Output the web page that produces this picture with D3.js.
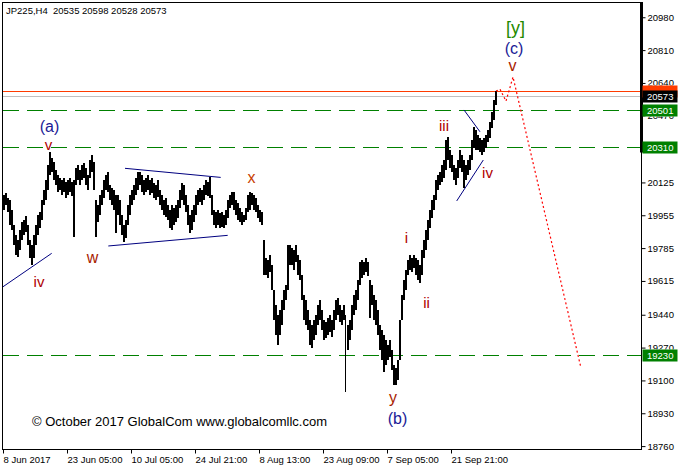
<!DOCTYPE html>
<html><head><meta charset="utf-8">
<script src="https://cdn.jsdelivr.net/npm/d3@7/dist/d3.min.js"></script>
<style>body{margin:0;background:#fff}svg{display:block}</style>
</head><body><svg id="c" width="681" height="470"></svg>
<script>
// ---- data (JP225 H4, compressed bars: one per 2 H4 bars) ----
const symbolInfo = "JP225,H4  20535 20598 20528 20573";
const highs = [
20060,20070,20044,20034,19982,19904,19853,19827,19879,19920,19930,19951,19904,19827,19801,19853,19904,19956,19972,20034,20086,20137,20215,20282,
20251,20231,20189,20163,20148,20137,20148,20127,20137,20148,20127,20137,20199,20215,20189,20215,20225,20199,20163,20241,20267,20231,20034,20008,20060,
20086,20137,20163,20179,20111,20096,20086,20060,20060,20034,19956,19904,19930,20008,20060,20086,20111,20148,20179,20179,20163,20137,20148,20163,20137,
20148,20122,20111,20137,20086,20060,20034,20044,20008,19982,20008,19992,20008,20034,20086,20122,20111,20060,20008,19956,19982,20008,20060,20086,20096,
20086,20111,20137,20127,20153,20060,19982,19972,19982,19967,19972,19956,19982,20034,20060,20075,20075,20034,20018,19992,19972,19956,19992,20060,20075,
20070,20060,20044,20008,19982,19972,19827,19734,19723,19749,19697,19568,19490,19439,19464,19516,19568,19594,19801,19801,19785,19775,19801,19749,19723,
19646,19542,19516,19464,19413,19387,19413,19439,19490,19516,19464,19413,19402,19423,19439,19413,19464,19516,19527,19490,19464,19490,19439,19387,19413,
19490,19542,19568,19620,19713,19723,19713,19734,19713,19620,19594,19542,19516,19464,19387,19361,19335,19309,19283,19309,19257,19180,19164,19206,19413,
19542,19620,19671,19723,19749,19734,19749,19734,19723,19697,19775,19827,19879,19930,19982,20034,20060,20137,20163,20179,20215,20241,20345,20360,20293,
20267,20215,20199,20241,20293,20267,20241,20215,20241,20267,20345,20412,20396,20370,20355,20345,20355,20370,20396,20438,20489,20552,20598];
const lows = [
19982,20008,19972,19904,19879,19801,19749,19739,19775,19827,19853,19868,19801,19734,19697,19734,19801,19853,19889,19930,20008,20034,20086,20163,
20179,20137,20111,20075,20086,20060,20075,20044,20060,20075,20055,19842,20111,20137,20111,20137,20148,20111,20086,20148,20179,20086,19842,19920,19956,
20008,20044,20086,20075,20034,20008,19982,19863,19956,19904,19853,19816,19837,19904,19956,20008,20034,20060,20086,20111,20075,20060,20075,20086,20060,
20070,20044,20034,20049,20008,19982,19956,19946,19930,19889,19879,19904,19920,19941,19992,20034,20008,19972,19904,19863,19879,19920,19956,20008,20023,
20008,20034,20060,20055,20044,19956,19904,19889,19904,19889,19894,19889,19904,19941,19992,20008,19982,19956,19930,19920,19904,19920,19930,19972,19982,
20008,19982,19972,19941,19920,19904,19646,19646,19630,19661,19568,19413,19335,19283,19335,19387,19464,19516,19568,19697,19697,19671,19713,19646,19620,
19516,19413,19387,19361,19283,19268,19309,19335,19387,19413,19361,19309,19320,19335,19351,19325,19361,19413,19439,19402,19387,19413,19040,19257,19309,
19361,19439,19464,19516,19594,19630,19646,19661,19640,19423,19490,19413,19387,19335,19257,19206,19144,19180,19206,19221,19154,19076,19076,19102,19206,
19413,19516,19568,19646,19671,19661,19682,19646,19620,19604,19646,19734,19775,19827,19889,19941,19982,20034,20086,20111,20127,20148,20189,20241,20199,
20179,20137,20111,20148,20199,20179,20096,20137,20163,20189,20241,20303,20293,20293,20282,20267,20282,20303,20334,20355,20407,20448,20528];
const xTickLabels = ["8 Jun 2017","23 Jun 05:00","10 Jul 05:00","24 Jul 21:00","8 Aug 13:00","23 Aug 09:00","7 Sep 05:00","21 Sep 21:00"];
const xTickBars = [0,32,64,96,128,160,192,224];
const yTicks = [20980,20810,20640,20470,20300,20125,19955,19785,19615,19440,19270,19100,18930,18760];
const hiddenTicks = [20300];           // label fully covered by the 20310 level box
const levelPrices = [20501,20310,19230];
const bidPrice = 20573;
const askPrice = 20598;
// trend lines: [barIndex, price] pairs
const trendLines = [
  [[0,19585],[24.35,19758]],
  [[61,20198],[108.85,20151]],
  [[52.65,19796],[112.35,19851]],
  [[226.85,20029],[240.15,20241]],
  [[230.5,20500],[238.5,20387]]
];
// projected path (red dotted)
const projection = [[246.5,20598],[248.5,20608],[251.5,20546],[255,20671],[289,19164]];
// wave labels: text, bar index, price (baseline), kind
const waveLabels = [
  ["(a)",23.25,20386,"deg"],["v",22.75,20293,"min"],["iv",18,19584,"min"],
  ["w",44.75,19708,"wxy"],["x",124.25,20122,"wxyx"],["i",201.75,19811,"min"],
  ["ii",211.75,19475,"min"],["iii",220.5,20391,"min"],["iv",242.25,20148,"min"],
  ["[y]",256.25,20891,"big"],["(c)",255.5,20792,"deg"],["v",254.75,20704,"wxy"],
  ["y",195,18981,"wxy"],["(b)",197.25,18877,"deg"]
];
const copyright = "© October 2017 GlobalCom www.globalcomllc.com";

// ---- drawing ----
const svg = d3.select("#c");
const FONT = "'Liberation Sans', Arial, sans-serif";
const x = d3.scaleLinear().domain([0,246]).range([3,495]);
const y = d3.scaleLinear().domain([18745,21059]).range([449,2]);
const L=2.5,T=2.5,R=641.5,B=449.5;
const py = p => Math.round(y(p))+0.5;

svg.append("rect").attr("width",681).attr("height",470).attr("fill","#fff");

// horizontal lines
svg.append("line").attr("x1",L).attr("x2",R).attr("y1",py(askPrice)).attr("y2",py(askPrice))
  .attr("stroke","#ff3c00").attr("stroke-width",1);
svg.append("line").attr("x1",L).attr("x2",R).attr("y1",py(bidPrice)).attr("y2",py(bidPrice))
  .attr("stroke","#c0c0c0").attr("stroke-width",1);
svg.selectAll(".lvl").data(levelPrices).enter().append("line")
  .attr("x1",3).attr("x2",R).attr("y1",py).attr("y2",py)
  .attr("stroke","#008000").attr("stroke-width",1).attr("stroke-dasharray","16,8");

// bars
svg.append("g").selectAll("rect").data(highs).enter().append("rect")
  .attr("x",(d,i)=>x(i)).attr("width",(d,i)=> (i===171?1:2))
  .attr("y",d=>y(d)).attr("height",(d,i)=>Math.max(1,y(lows[i])-y(d)))
  .attr("fill","#000").attr("shape-rendering","crispEdges");

// trend lines
svg.append("g").selectAll("line").data(trendLines).enter().append("line")
  .attr("x1",d=>x(d[0][0])).attr("y1",d=>y(d[0][1])).attr("x2",d=>x(d[1][0])).attr("y2",d=>y(d[1][1]))
  .attr("stroke","#000080").attr("stroke-width",1);

// projection
svg.append("path").datum(projection)
  .attr("d",d3.line().x(d=>x(d[0])).y(d=>y(d[1])))
  .attr("fill","none").attr("stroke","#ff0000").attr("stroke-width",1.2).attr("stroke-dasharray","2,2.5");

// wave labels
const styleOf = {
  deg:{c:"#1a1a96",s:16}, min:{c:"#b00000",s:15}, wxy:{c:"#a81c00",s:16}, wxyx:{c:"#c84000",s:16}, big:{c:"#1f8a00",s:18}
};
svg.append("g").selectAll("text").data(waveLabels).enter().append("text")
  .attr("x",d=>x(d[1])).attr("y",d=>y(d[2])).attr("text-anchor","middle")
  .attr("font-family",FONT).attr("font-size",d=>styleOf[d[3]].s).attr("fill",d=>styleOf[d[3]].c)
  .text(d=>d[0]);

// border
svg.append("rect").attr("x",L).attr("y",T).attr("width",R-L).attr("height",B-T)
  .attr("fill","none").attr("stroke","#000").attr("stroke-width",1);
// thick part of the right edge (upper section)
svg.append("rect").attr("x",640).attr("y",2).attr("width",3).attr("height",py(levelPrices[1])+5-2).attr("fill","#000");

// clip (in root user space) so labels partly covered by level boxes show only their visible part
const cp = svg.append("defs").append("clipPath").attr("id","axclip").attr("clipPathUnits","userSpaceOnUse");
const boxSpans = levelPrices.concat([bidPrice,askPrice]).map(p=>[py(p)-6,py(p)+6]).sort((a,b)=>a[0]-b[0]);
let prev = 0;
boxSpans.forEach(s=>{ if(s[0]>prev) cp.append("rect").attr("x",R-2).attr("y",prev).attr("width",45).attr("height",s[0]-prev); prev=Math.max(prev,s[1]); });
cp.append("rect").attr("x",R-2).attr("y",prev).attr("width",45).attr("height",470-prev);

// right axis (outer group carries the clip, untransformed)
const yaOuter = svg.append("g").attr("clip-path","url(#axclip)");
const ya = yaOuter.append("g").attr("transform",`translate(${R},0)`)
  .call(d3.axisRight(y).tickValues(yTicks).tickSize(4).tickPadding(2)
    .tickFormat(d=>hiddenTicks.includes(d)?"":String(d)));
ya.select(".domain").remove();
ya.selectAll("text").attr("font-family",FONT).attr("font-size",9.5).attr("fill","#000");
ya.selectAll("line").attr("stroke","#000");

// bottom axis
const xa = svg.append("g").attr("transform",`translate(0,${B})`)
  .call(d3.axisBottom(x).tickValues(xTickBars).tickSize(4).tickPadding(3).tickFormat((d,i)=>xTickLabels[i]));
xa.select(".domain").remove();
xa.selectAll("text").attr("font-family",FONT).attr("font-size",9.5).attr("fill","#000").attr("text-anchor","start");
xa.selectAll("line").attr("stroke","#000");

// price boxes
function box(p,fill,label){
  const cy=py(p);
  svg.append("rect").attr("x",R+1).attr("y",cy-6).attr("width",35).attr("height",12).attr("fill",fill);
  if(label) svg.append("text").attr("x",R+5.5).attr("y",cy+3.5).attr("font-family",FONT).attr("font-size",9.5)
    .attr("fill","#fff").text(String(p));
}
box(askPrice,"#ff3c00",false);
box(bidPrice,"#000",true);
levelPrices.forEach(p=>box(p,"#008000",true));

// header and copyright
svg.append("text").attr("x",6).attr("y",14).attr("font-family",FONT).attr("font-size",9.5).attr("fill","#000")
  .attr("xml:space","preserve").style("white-space","pre").text(symbolInfo);
svg.append("text").attr("x",32).attr("y",426).attr("font-family",FONT).attr("font-size",13).attr("fill","#000")
  .text(copyright);
</script></body></html>
